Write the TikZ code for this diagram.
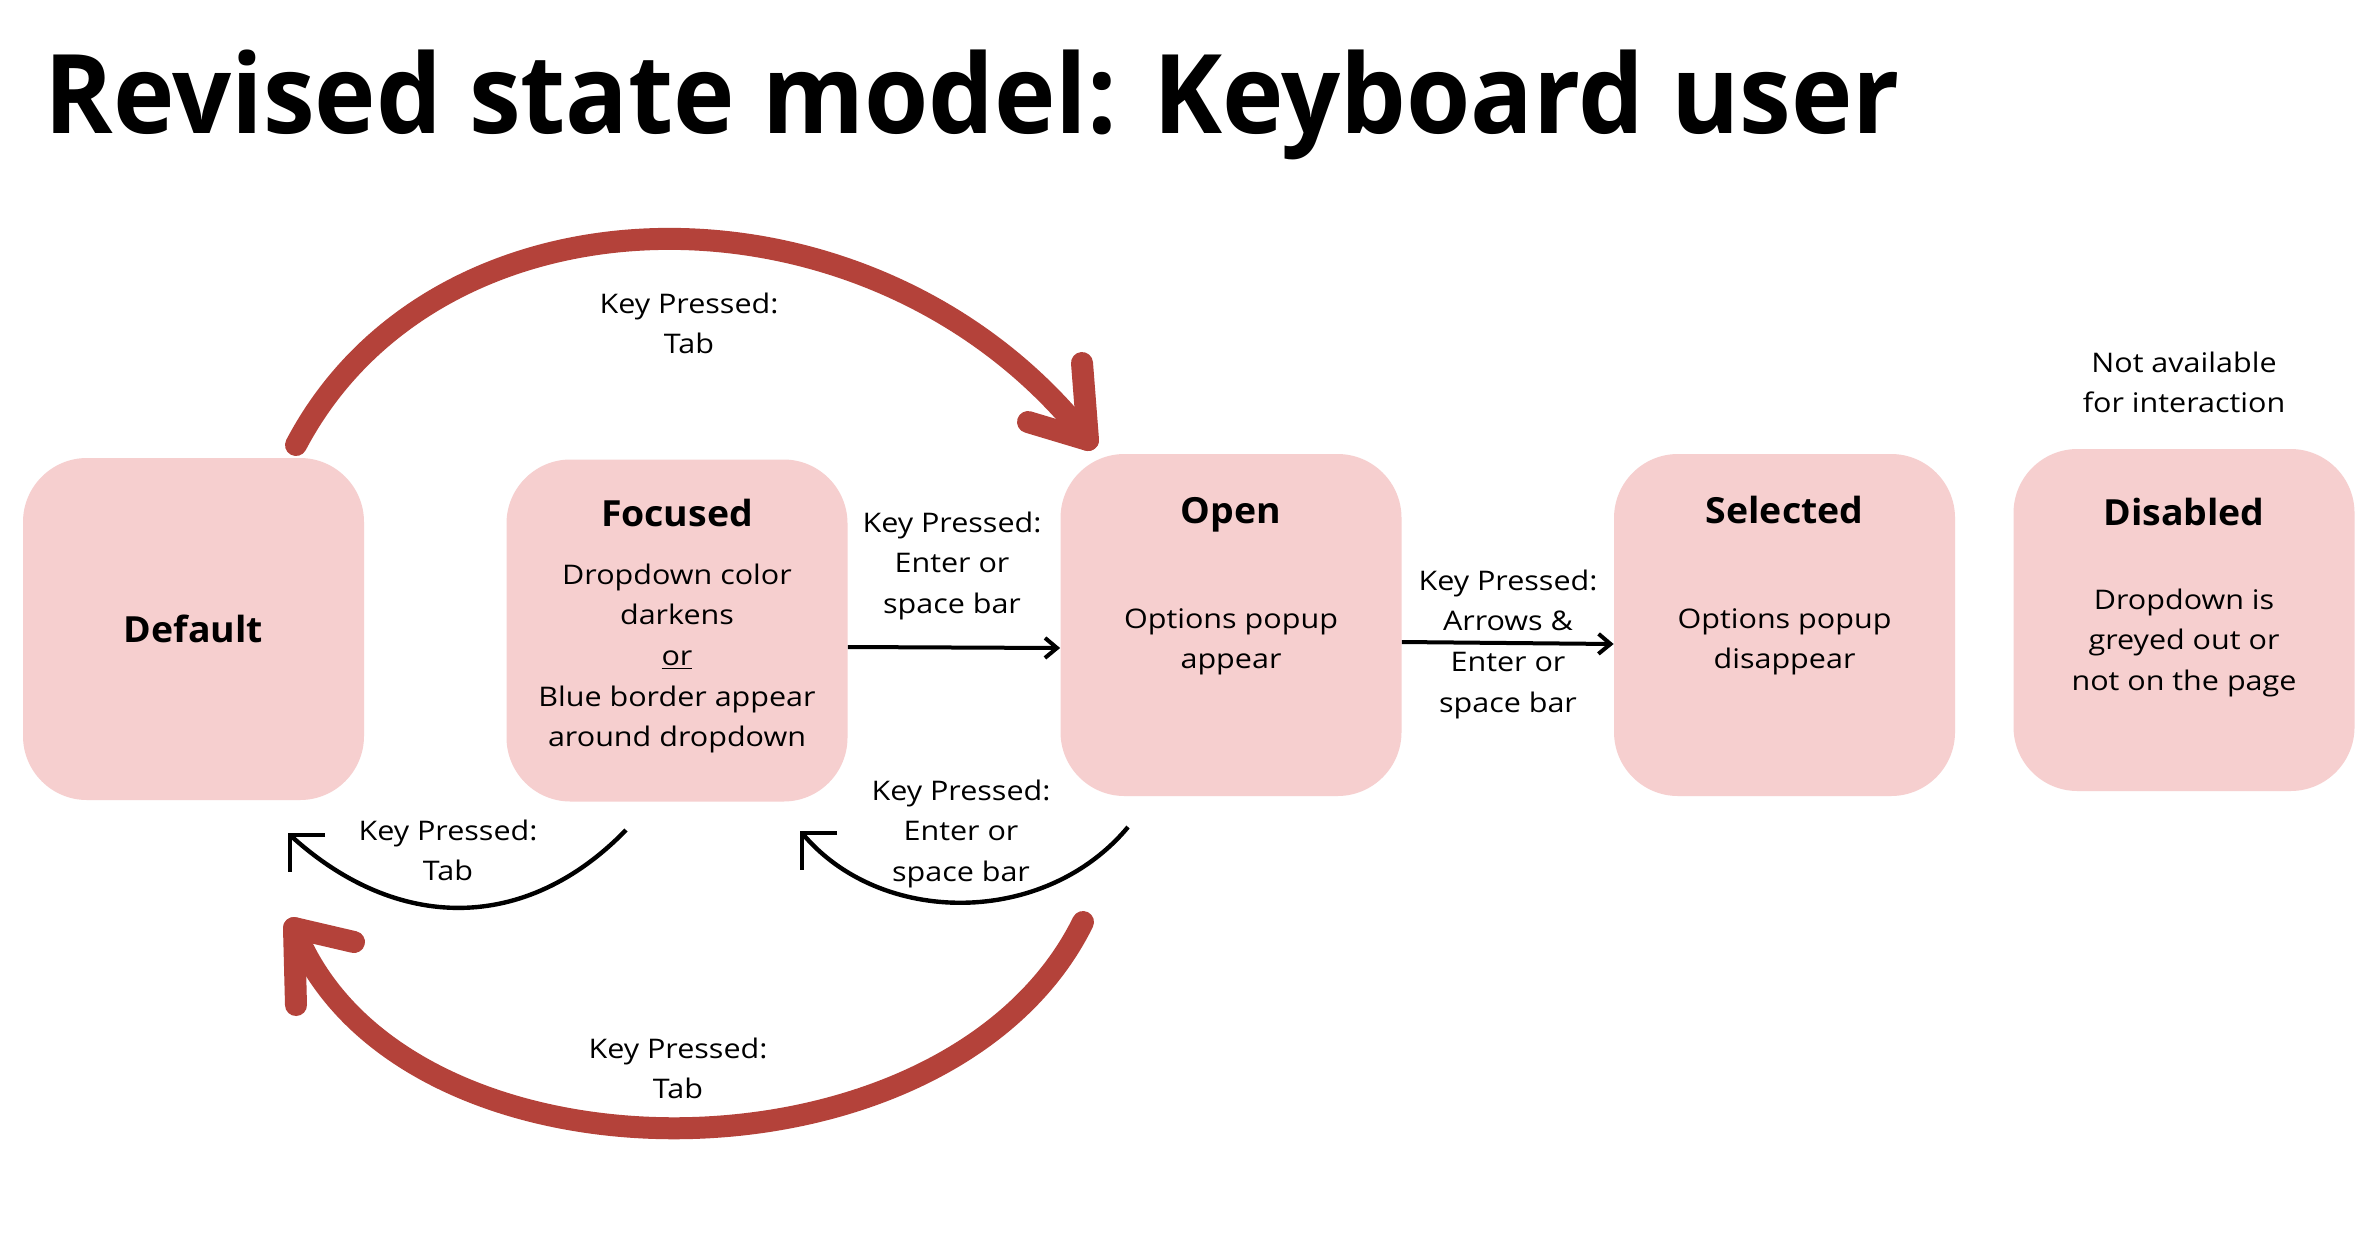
\documentclass[tikz,border=0pt]{standalone}
\usepackage{fontspec}
\setmainfont{Open Sans}
\newfontfamily\lblfont{Open Sans}[FakeStretch=1.13]
\newfontfamily\ttlfont{Open Sans}[FakeStretch=1.04]
\newfontfamily\headfont{Open Sans}[FakeStretch=0.945]
\usetikzlibrary{arrows.meta,calc}
\definecolor{boxpink}{HTML}{F6CFCF}
\definecolor{arrowred}{HTML}{B4423A}
\newcommand\mlines[1]{\begin{tabular}[t]{@{}c@{}}#1\end{tabular}}
\begin{document}
\begin{tikzpicture}[x=0.5pt,y=-0.5pt,
  statebox/.style={draw=none, fill=boxpink, rounded corners=32pt, minimum width=170.5pt, minimum height=171pt, inner sep=0pt},
  lbl/.style={anchor=base, inner sep=0pt, font=\lblfont\fontsize{13.5}{20.35}\selectfont},
  ttl/.style={anchor=base, inner sep=0pt, font=\ttlfont\fontsize{18}{22}\selectfont\bfseries},
  redarc/.style={draw=arrowred, line width=11pt, line cap=round, line join=round},
  blackarc/.style={draw=black, line width=2.2pt},
  straightarrow/.style={draw=black, line width=2pt, -{Straight Barb[length=6pt,width=10pt]}}]
\useasboundingbox (0,0) rectangle (2380,1248);
\fill[white] (0,0) rectangle (2380,1248);

% title
\node[anchor=base west, inner sep=0pt, font=\headfont\fontsize{55}{60}\selectfont\bfseries] (title) at (44,133) {Revised state model: Keyboard user};

% state boxes
\node[statebox] (default) at (193.5,629) {};
\node[statebox] (focused) at (677,630.5) {};
\node[statebox] (open) at (1231,625) {};
\node[statebox] (selected) at (1784.5,625) {};
\node[statebox] (disabled) at (2184,620) {};

% box texts
\node[ttl] (defaultT) at (193.5,642) {Default};
\node[ttl] (focusedT) at (677,526) {Focused};
\node[lbl] (focusedB) at (677,584) {\mlines{Dropdown color\\darkens\\\underline{or}\\Blue border appear\\around dropdown}};
\node[ttl] (openT) at (1231,523) {Open};
\node[lbl] (openB) at (1231,628) {\mlines{Options popup\\appear}};
\node[ttl] (selectedT) at (1784.5,523) {Selected};
\node[lbl] (selectedB) at (1784.5,628) {\mlines{Options popup\\disappear}};
\node[ttl] (disabledT) at (2184,525) {Disabled};
\node[lbl] (disabledB) at (2184,609) {\mlines{Dropdown is\\greyed out or\\not on the page}};
\node[lbl] (disabledN) at (2184,372) {\mlines{Not available\\for interaction}};

% straight arrows
\draw[straightarrow] ([yshift=-8.25pt]focused.east) -- ([yshift=-11.5pt]open.west);
\draw[straightarrow] ([yshift=-8.5pt]open.east) -- ([yshift=-9.5pt]selected.west);
\node[lbl] (l2) at (952,532) {\mlines{Key Pressed:\\Enter or\\space bar}};
\node[lbl] (l3) at (1508,590) {\mlines{Key Pressed:\\Arrows \&\\Enter or\\space bar}};

% top red arc: Default -> Open
\coordinate (t1s) at (296,445);
\coordinate (t1e) at (1088,440);
\draw[redarc] (t1s) .. controls (440,171) and (878,171) .. (t1e);
\draw[redarc] ($(t1e)+(-6,-77)$) -- (t1e) -- ($(t1e)+(-60,-18)$);
\node[lbl] (l1) at (689,313) {\mlines{Key Pressed:\\Tab}};

% bottom red arc: Open -> Default
\coordinate (b1s) at (1083,922);
\coordinate (b1e) at (294,928);
\draw[redarc] (b1s) .. controls (948,1196) and (398,1196) .. (b1e);
\draw[redarc] ($(b1e)+(2,77)$) -- (b1e) -- ($(b1e)+(60,14)$);
\node[lbl] (l6) at (678,1058) {\mlines{Key Pressed:\\Tab}};

% black arc: Focused -> Default
\coordinate (l1s) at (626,830);
\coordinate (l1e) at (290,835);
\draw[blackarc] (l1s) .. controls (526,933) and (397,933) .. (l1e);
\draw[blackarc] ($(l1e)+(35,0)$) -- (l1e) -- ($(l1e)+(0,37)$);
\node[lbl] (l4) at (448,840) {\mlines{Key Pressed:\\Tab}};

% black arc: Open -> Focused
\coordinate (r1s) at (1128,827);
\coordinate (r1e) at (802,833);
\draw[blackarc] (r1s) .. controls (1045,927) and (880,927) .. (r1e);
\draw[blackarc] ($(r1e)+(35,0)$) -- (r1e) -- ($(r1e)+(0,37)$);
\node[lbl] (l5) at (961,800) {\mlines{Key Pressed:\\Enter or\\space bar}};
\end{tikzpicture}
\end{document}
